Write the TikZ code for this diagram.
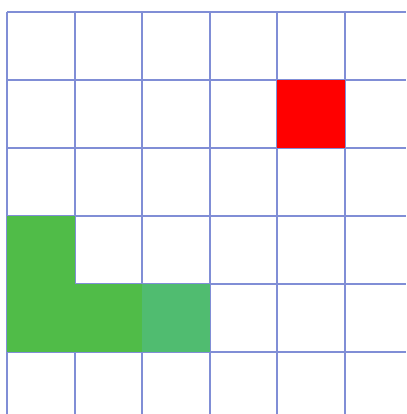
\documentclass[tikz,border=0pt]{standalone}
\definecolor{gridblue}{RGB}{128,142,214}
\definecolor{cellgreen}{RGB}{80,188,72}
\definecolor{cellgreenlight}{RGB}{80,188,112}
\definecolor{cellred}{RGB}{255,0,0}
\begin{document}
\begin{tikzpicture}[x=1pt,y=-1pt,
  gridline/.style={draw=gridblue,line width=2pt},
  greencell/.style={fill=cellgreen},
  lightcell/.style={fill=cellgreenlight},
  redcell/.style={fill=cellred}]
\useasboundingbox (0,0) rectangle (406,414);
\fill[white] (0,0) rectangle (406,414);
% grid
\foreach \x in {7,74.6,142.2,209.8,277.4,345} \draw[gridline] (\x,12) -- (\x,414);
\foreach \y in {12,79.9,147.8,215.7,283.6,351.5} \draw[gridline] (7,\y) -- (406,\y);
% cells
\fill[greencell] (7,215.7) rectangle (74.6,351.5);
\fill[greencell] (74.6,283.6) rectangle (142.2,351.5);
\fill[lightcell] (142.2,283.6) rectangle (209.8,351.5);
\fill[redcell] (277.4,79.9) rectangle (345,147.8);
\end{tikzpicture}
\end{document}
